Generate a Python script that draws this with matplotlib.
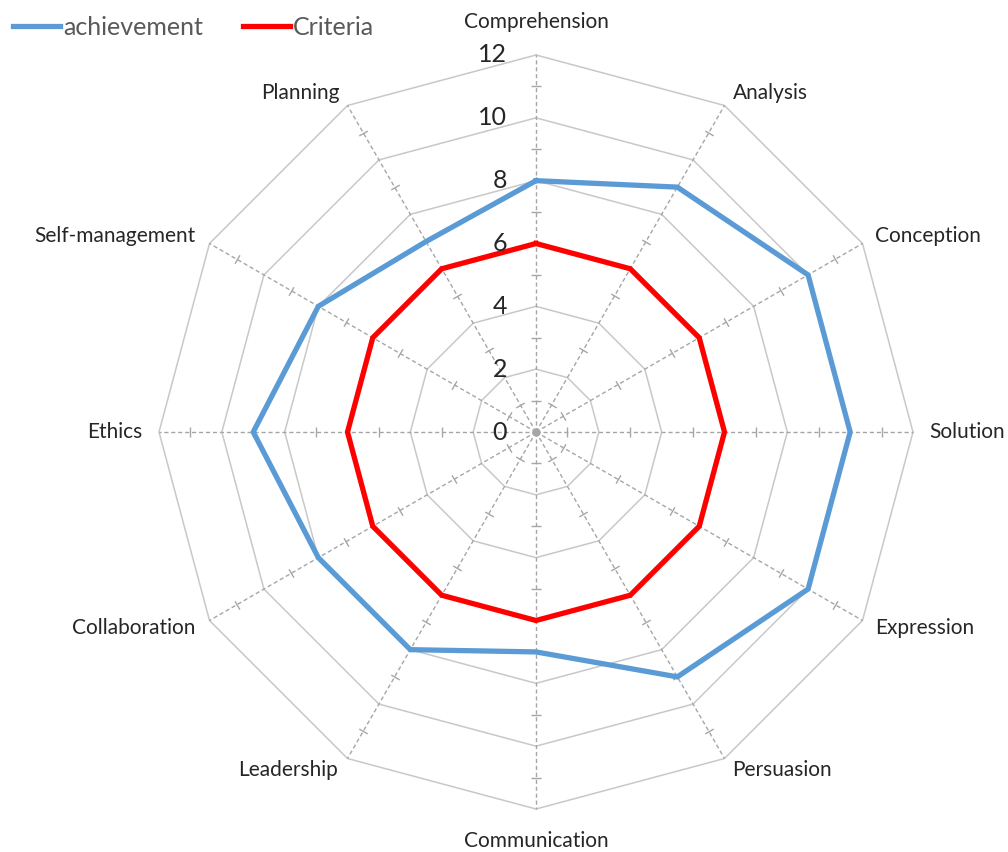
import numpy as np
from matplotlib import pyplot as plt

# data
categories = ["Comprehension", "Analysis", "Conception", "Solution", "Expression",
              "Persuasion", "Communication", "Leadership", "Collaboration",
              "Ethics", "Self-management", "Planning"]
achievement = [8, 9, 10, 10, 10, 9, 7, 8, 8, 9, 8, 7]
criteria = [6, 6, 6, 6, 6, 6, 6, 6, 6, 6, 6, 6]
major_ticks = [0, 2, 4, 6, 8, 10, 12]
minor_ticks = [1, 3, 5, 7, 9, 11]

plt.rcParams['font.family'] = ['Lato', 'DejaVu Sans']

N = len(categories)
angles = np.arange(N) * 2 * np.pi / N
closed = np.append(angles, angles[0])

fig = plt.figure(figsize=(10.08, 8.52), dpi=100)
ax = fig.add_axes([159 / 1008, 43 / 852, 754 / 1008, 754 / 852], projection='polar')
ax.set_theta_zero_location('N')
ax.set_theta_direction(-1)
ax.set_ylim(0, 12)
ax.set_axis_off()

# polygon grid
for r in major_ticks[1:]:
    ax.plot(closed, [r] * (N + 1), color='#c8c8c8', lw=1.1, clip_on=False, zorder=1)

# dashed spokes with small cross ticks
for i, a in enumerate(angles):
    ax.plot([a, a], [0, 12], color='#a6a6a6', lw=1.0, ls=(0, (3, 2)), clip_on=False, zorder=1)
    phi = 90 - i * 30
    ax.plot([a] * len(minor_ticks), minor_ticks, ls='none', marker=(2, 0, phi),
            ms=7, mec='#a6a6a6', mew=1.0, clip_on=False, zorder=1)
ax.plot([0], [0], marker='o', ms=5, color='#a6a6a6', zorder=2)

# series
ax.plot(closed, achievement + achievement[:1], color='#5b9bd5',
        lw=3.8, label='achievement', clip_on=False, zorder=3, solid_joinstyle='miter')
ax.plot(closed, criteria + criteria[:1], color='#ff0000',
        lw=3.8, label='Criteria', clip_on=False, zorder=3, solid_joinstyle='miter')

# value labels along the top spoke
for r in major_ticks:
    ax.annotate(str(r), xy=(0, r), xytext=(-29, 0), textcoords='offset pixels',
                ha='right', va='center', fontsize=18, color='#262626')

# category labels
offsets = [(0, 33, 'center'), (8, 13, 'left'), (13, 8, 'left'), (16, 0, 'left'),
           (13, -7, 'left'), (8, -12, 'left'), (0, -32, 'center'), (-10, -12, 'right'),
           (-14, -7, 'right'), (-17, 0, 'right'), (-14, 8, 'right'), (-8, 13, 'right')]
for a, name, (dx, dy, ha) in zip(angles, categories, offsets):
    ax.annotate(name, xy=(a, 12), xytext=(dx, dy), textcoords='offset pixels',
                ha=ha, va='center', fontsize=15, color='#262626', annotation_clip=False)

fig.legend(loc='upper left', bbox_to_anchor=(13 / 1008, 1 - 16 / 852), frameon=False,
           ncol=2, fontsize=18, handlelength=1.9, handletextpad=0.1, columnspacing=1.6,
           borderpad=0, borderaxespad=0, labelcolor='#595959')

fig.savefig('out.png', dpi=100)
